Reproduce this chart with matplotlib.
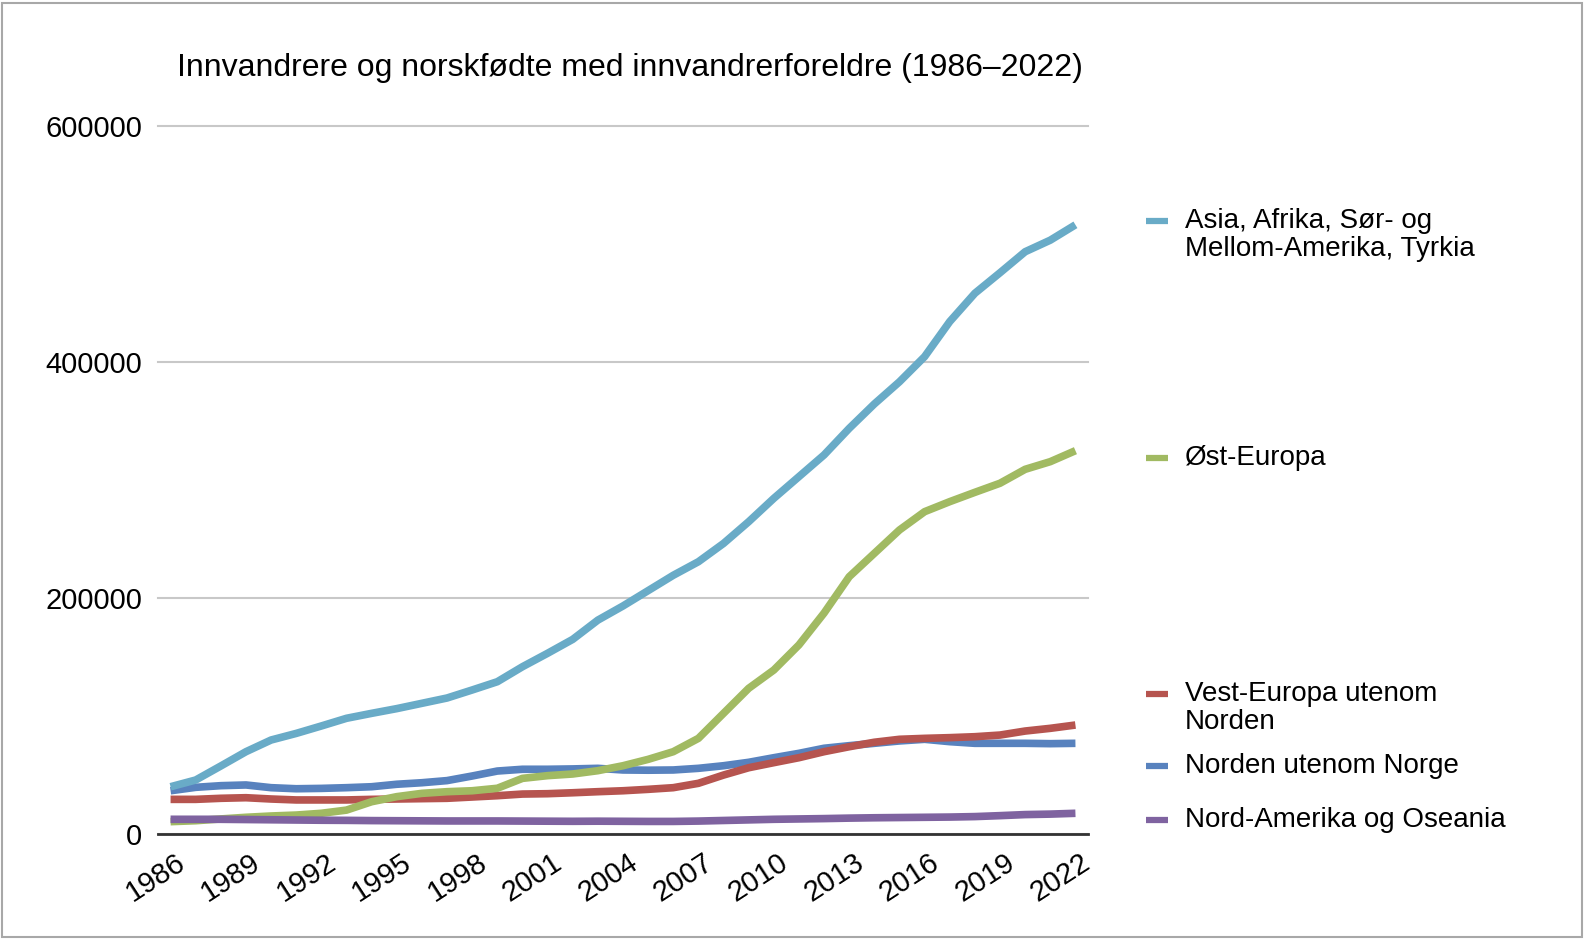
import matplotlib
matplotlib.use("Agg")
import matplotlib.pyplot as plt
from matplotlib.lines import Line2D
from matplotlib.patches import Rectangle
from matplotlib.transforms import ScaledTranslation

plt.rcParams['font.family'] = ['Liberation Sans', 'DejaVu Sans']

years = list(range(1986, 2023))
tick_years = list(range(1986, 2023, 3))

asia = [39800, 45500, 57400, 69500, 79400, 85000, 91300, 97800, 102000, 106000,
        110500, 115000, 121800, 128800, 141500, 152900, 164700, 181000, 193000,
        206000, 219000, 230500, 246000, 264400, 284200, 302600, 321000, 343500,
        364200, 383000, 404300, 434000, 458000, 475400, 493200, 503000, 516000]
ost = [10200, 11000, 12500, 13900, 15000, 15800, 17300, 20000, 27100, 31400,
       34200, 35600, 36400, 38500, 46900, 49200, 50600, 53400, 57600, 63000,
       69500, 80800, 102000, 123200, 138700, 160000, 187000, 217800, 237600,
       257400, 272900, 281400, 289300, 297000, 308800, 315300, 324600]
vest = [29100, 29100, 30000, 30500, 29400, 28600, 28600, 28600, 29100, 29400,
        29700, 30000, 31100, 32200, 33600, 33900, 34700, 35600, 36400, 37600,
        39000, 42700, 49700, 55900, 60200, 64400, 69500, 73700, 77500, 80000,
        80800, 81400, 82200, 83600, 87000, 89300, 92100]
norden = [36400, 39300, 40700, 41300, 39000, 38100, 38400, 39000, 39800, 41900,
          43200, 45000, 48900, 53100, 54600, 54600, 54900, 55400, 54000, 53800,
          54000, 55400, 57600, 60500, 64400, 68100, 72400, 74600, 76600, 78600,
          80000, 78000, 76600, 76600, 76600, 76300, 76600]
nordam = [12200, 12200, 12200, 12000, 11800, 11600, 11400, 11300, 11100, 11000,
          10900, 10800, 10800, 10800, 10700, 10600, 10500, 10600, 10500, 10400,
          10400, 10700, 11200, 11700, 12200, 12500, 12800, 13200, 13500, 13700,
          13900, 14100, 14500, 15300, 16200, 16600, 17300]

labels = [["Asia, Afrika, Sør- og", "Mellom-Amerika, Tyrkia"],
          ["Øst-Europa"],
          ["Vest-Europa utenom", "Norden"],
          ["Norden utenom Norge"],
          ["Nord-Amerika og Oseania"]]
colors = ['#69abc7', '#a1ba62', '#b6544f', '#5882be', '#7f63a0']
series = [asia, ost, vest, norden, nordam]
zorders = [6, 4, 3, 2, 5]

W, H = 1584, 940
fig = plt.figure(figsize=(W / 100, H / 100), dpi=100)
ax = fig.add_axes([158 / W, (H - 833.7) / H, 930 / W, 708 / H])

x = list(range(len(years)))
for s, c, z in zip(series, colors, zorders):
    ax.plot(x, s, color=c, lw=5.5, solid_capstyle='butt', solid_joinstyle='round', zorder=z)

ax.set_xlim(-0.5, len(years) - 0.5)
ax.set_ylim(0, 600000)
ax.set_yticks([0, 200000, 400000, 600000])
ax.set_yticklabels(['0', '200000', '400000', '600000'])
ax.yaxis.grid(True, color='#c8c8c8', lw=1.5)
for gl in ax.get_ygridlines():
    gl.set_clip_on(False)
ax.set_axisbelow(True)
for sp in ['left', 'right', 'top']:
    ax.spines[sp].set_visible(False)
ax.spines['bottom'].set_color('#333333')
ax.spines['bottom'].set_linewidth(2)
ax.spines['bottom'].set_zorder(10)
ax.tick_params(axis='y', length=0, pad=11.5, labelsize=21)
ax.tick_params(axis='x', length=0, pad=0, labelsize=21)

tick_pos = [years.index(t) for t in tick_years]
ax.set_xticks(tick_pos)
ax.set_xticklabels([str(t) for t in tick_years], rotation=33, ha='right', va='center',
                   rotation_mode='anchor')
off = ScaledTranslation(12 / 100, -26 / 100, fig.dpi_scale_trans)
for lab in ax.get_xticklabels():
    lab.set_transform(lab.get_transform() + off)

fig.text(630 / W, 1 - 76 / H, "Innvandrere og norskfødte med innvandrerforeldre (1986–2022)",
         ha='center', va='baseline', fontsize=23)

# legend
leg_y = [221, 458, 694, 766, 820]
line_gap = 28
for lab, c, yy in zip(labels, colors, leg_y):
    fig.add_artist(Line2D([1146 / W, 1168 / W], [1 - yy / H, 1 - yy / H],
                          color=c, lw=4.5, solid_capstyle='butt', transform=fig.transFigure))
    for k, line in enumerate(lab):
        fig.text(1185 / W, 1 - (yy + k * line_gap) / H, line, ha='left', va='center',
                 fontsize=20)

fig.add_artist(Rectangle((2 / W, 3 / H), 1580 / W, 934 / H, transform=fig.transFigure,
                         fill=False, edgecolor='#a8a8a8', lw=1.5))

fig.savefig('out.png', dpi=100, facecolor='white')
